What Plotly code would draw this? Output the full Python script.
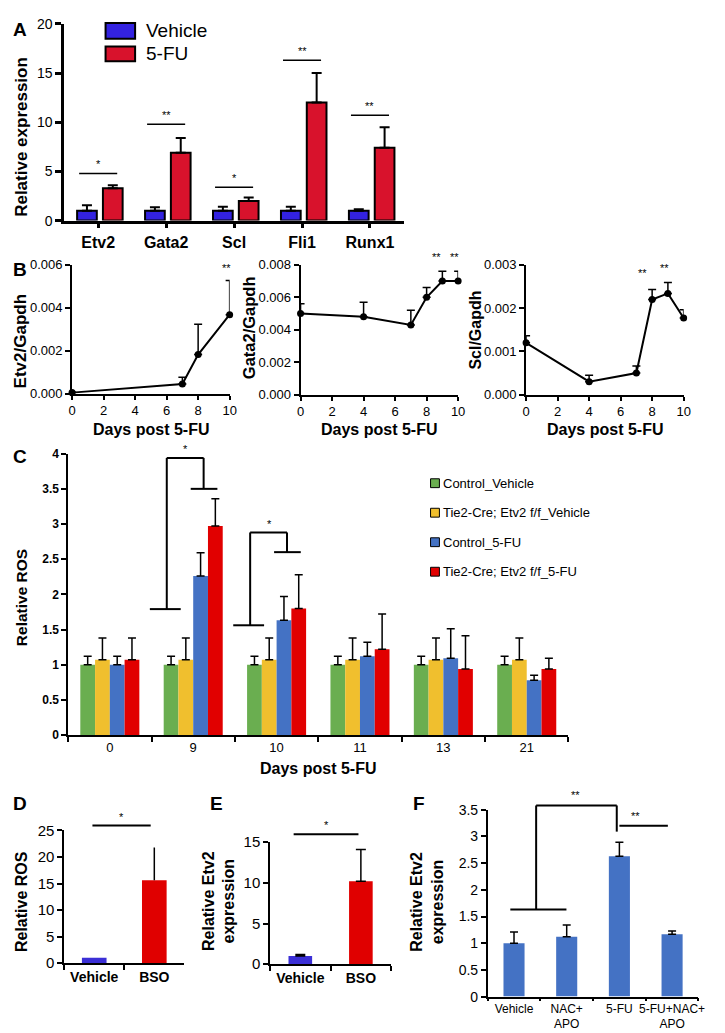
import plotly.graph_objects as go

W, H = 725, 1033
FONT = "Arial, 'Liberation Sans', Helvetica, sans-serif"

# ---------------- DATA ----------------
# Panel A
genes = ["Etv2", "Gata2", "Scl", "Fli1", "Runx1"]
a_vehicle = [1.0, 1.0, 1.0, 1.0, 1.0]
a_vehicle_err = [0.55, 0.35, 0.4, 0.4, 0.15]
a_5fu = [3.3, 6.9, 2.0, 12.0, 7.4]
a_5fu_err = [0.3, 1.5, 0.35, 3.0, 2.1]
a_sig_labels = ["*", "**", "*", "**", "**"]
a_sig_heights = [4.8, 9.8, 3.4, 16.3, 10.7]

# Panel B
b_etv2_days = [0, 7, 8, 10]
b_etv2 = [0.00005, 0.00045, 0.00182, 0.00368]
b_etv2_err = [0.00002, 0.00032, 0.00141, 0.00159]
b_gata2_days = [0, 4, 7, 8, 9, 10]
b_gata2 = [0.0050, 0.0048, 0.0043, 0.0060, 0.0070, 0.0070]
b_gata2_err = [0.0006, 0.0009, 0.0009, 0.0006, 0.0006, 0.0006]
b_scl_days = [0, 4, 7, 8, 9, 10]
b_scl = [0.0012, 0.0003, 0.0005, 0.0022, 0.00234, 0.00177]
b_scl_err = [0.00016, 0.00015, 0.00016, 0.00023, 0.00025, 0.00019]
b_etv2_sig = [(9.8, 0.0055)]
b_gata2_sig = [(8.6, 0.0080), (9.8, 0.0080)]
b_scl_sig = [(7.4, 0.00262), (8.8, 0.00275)]

# Panel C
c_days = ["0", "9", "10", "11", "13", "21"]
c_names = ["Control_Vehicle", "Tie2-Cre; Etv2 f/f_Vehicle",
           "Control_5-FU", "Tie2-Cre; Etv2 f/f_5-FU"]
c_ctrl_veh = [1.0, 1.0, 1.0, 1.0, 1.0, 1.0]
c_ctrl_veh_err = [0.12, 0.12, 0.12, 0.12, 0.12, 0.12]
c_ko_veh = [1.07, 1.07, 1.07, 1.07, 1.07, 1.07]
c_ko_veh_err = [0.31, 0.31, 0.31, 0.31, 0.31, 0.31]
c_ctrl_5fu = [1.0, 2.26, 1.63, 1.12, 1.09, 0.78]
c_ctrl_5fu_err = [0.12, 0.33, 0.34, 0.2, 0.42, 0.07]
c_ko_5fu = [1.07, 2.97, 1.8, 1.22, 0.94, 0.94]
c_ko_5fu_err = [0.31, 0.39, 0.48, 0.5, 0.47, 0.15]
# brackets: (category index, low level, top level, right level)
c_brackets = [(1, 1.79, 3.94, 3.5), (2, 1.56, 2.88, 2.6)]

# Panel D
d_groups = ["Vehicle", "BSO"]
d_vals = [1.0, 15.6]
d_err = [0.0, 6.2]

# Panel E
e_groups = ["Vehicle", "BSO"]
e_vals = [1.0, 10.2]
e_err = [0.2, 3.9]

# Panel F
f_groups = ["Vehicle", "NAC+<br>APO", "5-FU", "5-FU+NAC+<br>APO"]
f_vals = [1.0, 1.12, 2.63, 1.17]
f_err = [0.21, 0.22, 0.26, 0.06]

# ---------------- COLORS ----------------
A_BLUE = "#3322E0"
A_RED = "#D8122C"
C_GREEN = "#6AAE50"
C_YELLOW = "#F0BF2E"
C_BLUE = "#4472C4"
C_RED = "#E10000"
D_BLUE = "#3B2FD6"
D_RED = "#E00000"


# ---------------- LAYOUT HELPERS ----------------
def xdom(p0, p1):
    return [p0 / W, p1 / W]


def ydom(top, bottom):
    return [1 - bottom / H, 1 - top / H]


DOM = {
    "A": (xdom(53, 398), ydom(7, 207)),
    "B1": (xdom(61, 221), ydom(252, 383)),
    "B2": (xdom(293, 453), ydom(252, 384)),
    "B3": (xdom(522, 682), ydom(252, 384)),
    "C": (xdom(57, 565), ydom(444, 730)),
    "D": (xdom(53, 175), ydom(827, 962)),
    "E": (xdom(262, 385), ydom(839, 963)),
    "F": (xdom(483, 697), ydom(806, 996)),
}
RNG = {
    "A": ([-0.5, len(genes) - 0.5], [0, 20]),
    "B1": ([0, 10], [0, 0.006]),
    "B2": ([0, 10], [0, 0.008]),
    "B3": ([0, 10], [0, 0.003]),
    "C": ([-0.5, len(c_days) - 0.5], [0, 4]),
    "D": ([-0.5, len(d_groups) - 0.5], [0, 25]),
    "E": ([-0.5, len(e_groups) - 0.5], [0, 15]),
    "F": ([-0.5, len(f_groups) - 0.5], [0, 3.5]),
}
AX = {"A": "", "B1": "2", "B2": "3", "B3": "4", "C": "5", "D": "6", "E": "7", "F": "8"}


def P(panel, xv, yv):
    (xd, yd) = DOM[panel]
    (xr, yr) = RNG[panel]
    px = xd[0] + (xv - xr[0]) / (xr[1] - xr[0]) * (xd[1] - xd[0])
    py = yd[0] + (yv - yr[0]) / (yr[1] - yr[0]) * (yd[1] - yd[0])
    return px, py


def pp(xp, yp):
    return xp / W, 1 - yp / H


shapes = []
annotations = []


def seg(panel, x0, y0, x1, y1, width=1.5):
    a = P(panel, x0, y0)
    b = P(panel, x1, y1)
    shapes.append(dict(type="line", xref="paper", yref="paper",
                       x0=a[0], y0=a[1], x1=b[0], y1=b[1],
                       line=dict(color="black", width=width)))


def star(panel, xv, yv, text, size=12):
    x, y = P(panel, xv, yv)
    annotations.append(dict(xref="paper", yref="paper", x=x, y=y, text=text,
                            showarrow=False, xanchor="center", yanchor="bottom",
                            font=dict(size=size, color="black", family=FONT)))


def label(xp, yp, text, size, angle=0, xanchor="center", bold=True):
    x, y = pp(xp, yp)
    annotations.append(dict(xref="paper", yref="paper", x=x, y=y,
                            text=("<b>%s</b>" % text) if bold else text,
                            showarrow=False, xanchor=xanchor, yanchor="middle",
                            textangle=angle,
                            font=dict(size=size, color="black", family=FONT)))


def up_err(arr, color="black", thickness=1.5, width=4):
    return dict(type="data", array=arr, arrayminus=[0] * len(arr), symmetric=False,
                color=color, thickness=thickness, width=width)


fig = go.Figure()

# ---------------- PANEL A ----------------
fig.add_trace(go.Bar(x=genes, y=a_vehicle, name="Vehicle", xaxis="x", yaxis="y",
                     marker=dict(color=A_BLUE, line=dict(color="black", width=2)),
                     width=0.29, offset=-0.31, error_y=up_err(a_vehicle_err, thickness=2, width=5),
                     showlegend=False))
fig.add_trace(go.Bar(x=genes, y=a_5fu, name="5-FU", xaxis="x", yaxis="y",
                     marker=dict(color=A_RED, line=dict(color="black", width=2)),
                     width=0.29, offset=0.07, error_y=up_err(a_5fu_err, thickness=2, width=5),
                     showlegend=False))
for i, (lab, h) in enumerate(zip(a_sig_labels, a_sig_heights)):
    seg("A", i - 0.28, h, i + 0.28, h, width=1.5)
    star("A", i, h + 0.1, lab, size=11)

# legend A (drawn keys)
for (top, bot, col, txt) in [(6, 22, A_BLUE, "Vehicle"), (30, 45, A_RED, "5-FU")]:
    shapes.append(dict(type="rect", xref="paper", yref="paper",
                       x0=95 / W, x1=125 / W, y0=1 - bot / H, y1=1 - top / H,
                       fillcolor=col, line=dict(color="black", width=2)))
    label(134, (top + bot) / 2, txt, 19, xanchor="left", bold=False)

# ---------------- PANEL B ----------------
for panel, days, vals, errs in [("B1", b_etv2_days, b_etv2, b_etv2_err),
                                ("B2", b_gata2_days, b_gata2, b_gata2_err),
                                ("B3", b_scl_days, b_scl, b_scl_err)]:
    fig.add_trace(go.Scatter(x=days, y=vals, mode="lines+markers",
                             xaxis="x" + AX[panel], yaxis="y" + AX[panel],
                             line=dict(color="black", width=2),
                             marker=dict(color="black", size=7),
                             error_y=up_err(errs, thickness=1.5, width=4),
                             cliponaxis=False, showlegend=False))
for panel, sigs in [("B1", b_etv2_sig), ("B2", b_gata2_sig), ("B3", b_scl_sig)]:
    for (xv, yv) in sigs:
        star(panel, xv, yv, "**", size=11)

# ---------------- PANEL C ----------------
c_series = [(c_ctrl_veh, c_ctrl_veh_err, C_GREEN),
            (c_ko_veh, c_ko_veh_err, C_YELLOW),
            (c_ctrl_5fu, c_ctrl_5fu_err, C_BLUE),
            (c_ko_5fu, c_ko_5fu_err, C_RED)]
bw = 0.177
for k, ((vals, errs, col), nm) in enumerate(zip(c_series, c_names)):
    fig.add_trace(go.Bar(x=c_days, y=vals, name=nm, xaxis="x5", yaxis="y5",
                         marker=dict(color=col, line=dict(width=0)),
                         width=bw, offset=-2 * bw + k * bw,
                         error_y=up_err(errs, thickness=1.5, width=4),
                         showlegend=False))
for (ci, low, top, right) in c_brackets:
    seg("C", ci - 0.52, low, ci - 0.15, low, 2)
    seg("C", ci - 0.317, low, ci - 0.317, top, 2)
    seg("C", ci - 0.317, top, ci + 0.125, top, 2)
    seg("C", ci + 0.125, top, ci + 0.125, right, 2)
    seg("C", ci - 0.03, right, ci + 0.29, right, 2)
    star("C", ci - 0.09, top + 0.01, "*", size=11)

# legend C (drawn keys)
for name, col, yc in zip(c_names, [C_GREEN, C_YELLOW, C_BLUE, C_RED], [474, 504, 534, 564]):
    shapes.append(dict(type="rect", xref="paper", yref="paper",
                       x0=425 / W, x1=434 / W, y0=1 - (yc + 4.5) / H, y1=1 - (yc - 4.5) / H,
                       fillcolor=col, line=dict(color="black", width=1)))
    label(436, yc, name, 13, xanchor="left", bold=False)

# ---------------- PANEL D ----------------
fig.add_trace(go.Bar(x=d_groups, y=d_vals, xaxis="x6", yaxis="y6",
                     marker=dict(color=[D_BLUE, D_RED], line=dict(width=0)),
                     width=0.41, error_y=up_err(d_err, thickness=1.5, width=0),
                     showlegend=False))
seg("D", -0.03, 25.9, 0.94, 25.9, 2)
star("D", 0.46, 26.0, "*", size=11)

# ---------------- PANEL E ----------------
fig.add_trace(go.Bar(x=e_groups, y=e_vals, xaxis="x7", yaxis="y7",
                     marker=dict(color=[D_BLUE, D_RED], line=dict(width=0)),
                     width=0.39, error_y=up_err(e_err, thickness=1.5, width=5),
                     showlegend=False))
seg("E", -0.11, 15.97, 0.96, 15.97, 2)
star("E", 0.43, 16.1, "*", size=11)

# ---------------- PANEL F ----------------
fig.add_trace(go.Bar(x=f_groups, y=f_vals, xaxis="x8", yaxis="y8",
                     marker=dict(color=C_BLUE, line=dict(width=0)),
                     width=0.4, error_y=up_err(f_err, thickness=1.5, width=4),
                     showlegend=False))
seg("F", -0.07, 1.63, 0.995, 1.63, 2)
seg("F", 0.42, 1.63, 0.42, 3.58, 2)
seg("F", 0.42, 3.58, 1.95, 3.58, 2)
seg("F", 1.95, 3.58, 1.95, 3.09, 2)
seg("F", 2.0, 3.2, 2.92, 3.2, 2)
star("F", 1.16, 3.62, "**", size=11)
star("F", 2.3, 3.24, "**", size=11)

# ---------------- TEXT LABELS ----------------
label(8, 13, "A", 19)
label(8, 257, "B", 19)
label(8, 447, "C", 19)
label(8, 800, "D", 19)
label(208, 800, "E", 19)
label(413, 800, "F", 19)

label(10, 122, "Relative expression", 17, angle=-90)
label(9, 330, "Etv2/Gapdh", 17, angle=-90)
label(240, 316, "Gata2/Gapdh", 16.5, angle=-90)
label(471, 318, "Scl/Gapdh", 16, angle=-90)
for cx in (141, 373, 602):
    label(cx, 419, "Days post 5-FU", 16)
label(9, 590, "Relative ROS", 15.5, angle=-90)
label(311, 764, "Days post 5-FU", 16)
label(9, 899, "Relative ROS", 16, angle=-90)
label(210, 899, "Relative Etv2<br>expression", 16, angle=-90)
label(422, 900, "Relative Etv2<br>expression", 16, angle=-90)


# ---------------- AXES ----------------
def axis(panel, letter, **kw):
    xd, yd = DOM[panel]
    xr, yr = RNG[panel]
    base = dict(showline=True, linecolor="black", showgrid=False, zeroline=False,
                ticks="outside", tickcolor="black", fixedrange=True)
    if letter == "x":
        base.update(domain=xd, anchor="y" + AX[panel], range=xr, tickangle=0)
    else:
        base.update(domain=yd, anchor="x" + AX[panel], range=yr)
    base.update(kw)
    return base


def tf(size, bold=False):
    d = dict(size=size, color="black", family=FONT)
    if bold:
        d["weight"] = "bold"
    return d


lay = {}
lay["xaxis"] = axis("A", "x", type="category", linewidth=2.5, tickwidth=2.5, ticklen=5,
                    tickfont=tf(16, True))
lay["yaxis"] = axis("A", "y", linewidth=2.5, tickwidth=2.5, ticklen=6, dtick=5,
                    tickfont=tf(14))
for panel, fmt in [("B1", 0.002), ("B2", 0.002), ("B3", 0.001)]:
    lay["xaxis" + AX[panel]] = axis(panel, "x", linewidth=2, tickwidth=2, ticklen=4,
                                    tickvals=[0, 2, 4, 6, 8, 10], tickfont=tf(13))
    lay["yaxis" + AX[panel]] = axis(panel, "y", linewidth=2, tickwidth=2, ticklen=5,
                                    dtick=fmt, tickformat=".3f", tickfont=tf(13))
lay["xaxis5"] = axis("C", "x", type="category", linewidth=1.5, tickwidth=1.5, ticklen=5,
                     tickson="boundaries", tickfont=tf(13))
lay["yaxis5"] = axis("C", "y", linewidth=1.5, tickwidth=1.5, ticklen=5, dtick=0.5,
                     tickfont=tf(12, True))
lay["xaxis6"] = axis("D", "x", type="category", linewidth=1.5, tickwidth=1.5, ticklen=5,
                     tickson="boundaries", tickfont=tf(14, True))
lay["yaxis6"] = axis("D", "y", linewidth=1.5, tickwidth=1.5, ticklen=5, dtick=5,
                     tickfont=tf(15))
lay["xaxis7"] = axis("E", "x", type="category", linewidth=1.5, tickwidth=1.5, ticklen=5,
                     tickson="boundaries", tickfont=tf(14, True))
lay["yaxis7"] = axis("E", "y", linewidth=1.5, tickwidth=1.5, ticklen=5, dtick=5,
                     tickfont=tf(15))
lay["xaxis8"] = axis("F", "x", type="category", linewidth=1.5, tickwidth=1.5, ticklen=3,
                     tickson="boundaries", tickfont=tf(12))
lay["yaxis8"] = axis("F", "y", linewidth=1.5, tickwidth=1.5, ticklen=5, dtick=0.5,
                     tickfont=tf(14))

fig.update_layout(
    width=W, height=H,
    margin=dict(l=0, r=0, t=0, b=0),
    paper_bgcolor="white", plot_bgcolor="white",
    barmode="overlay",
    showlegend=False,
    font=dict(family=FONT, color="black"),
    shapes=shapes,
    annotations=annotations,
    **lay,
)

fig.write_html("out.html")
